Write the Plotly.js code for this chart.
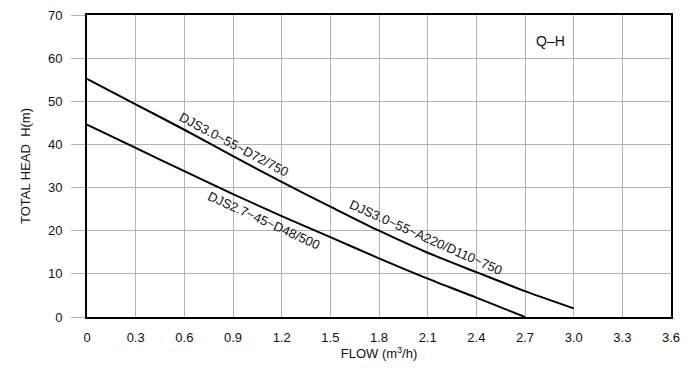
<!DOCTYPE html>
<html>
<head>
<meta charset="utf-8">
<script src="https://cdn.plot.ly/plotly-3.0.1.min.js"></script>
<style>html,body{margin:0;padding:0;background:#fff;}#chart{width:700px;height:374px;}</style>
</head>
<body>
<div id="chart"></div>
<script>
// Data
var flowUpper = [0, 0.3, 0.6, 0.9, 1.2, 1.5, 1.8, 2.1, 2.4, 2.7, 3.0];
var headUpper = [55.2, 49.3, 43.4, 37.3, 31.3, 25.6, 20.0, 14.9, 10.4, 6.0, 2.0];
var flowLower = [0, 0.3, 0.6, 0.9, 1.2, 1.5, 1.8, 2.1, 2.4, 2.7];
var headLower = [44.6, 39.2, 33.8, 28.5, 23.4, 18.5, 13.6, 8.9, 4.5, 0];
var xTicks = [0, 0.3, 0.6, 0.9, 1.2, 1.5, 1.8, 2.1, 2.4, 2.7, 3.0, 3.3, 3.6];
var xTickLabels = ["0", "0.3", "0.6", "0.9", "1.2", "1.5", "1.8", "2.1", "2.4", "2.7", "3.0", "3.3", "3.6"];
var yTicks = [0, 10, 20, 30, 40, 50, 60, 70];
var curveLabels = ["DJS3.0~55~D72/750", "DJS2.7~45~D48/500", "DJS3.0~55~A220/D110~750"];

var font = "Liberation Sans, Arial, Helvetica, sans-serif";

var traces = [
  {x: flowUpper, y: headUpper, mode: "lines", line: {color: "#000", width: 2, shape: "spline", smoothing: 0.8}, hoverinfo: "none"},
  {x: flowLower, y: headLower, mode: "lines", line: {color: "#000", width: 2, shape: "spline", smoothing: 0.8}, hoverinfo: "none"}
];

var lblFont = {size: 13, family: font, color: "#111"};

var layout = {
  width: 700, height: 374,
  margin: {l: 87, r: 29, t: 15, b: 57},
  paper_bgcolor: "#fff", plot_bgcolor: "#fff",
  showlegend: false,
  font: {family: font, size: 13, color: "#111"},
  xaxis: {
    range: [0, 3.6], tickvals: xTicks, ticktext: xTickLabels,
    tickfont: {size: 13, family: font, color: "#111"},
    showgrid: true, gridcolor: "#b4b4b4", gridwidth: 1,
    zeroline: false, showline: true, linecolor: "#000", linewidth: 2, mirror: true,
    ticks: "", ticklabelstandoff: 7,
    title: {text: "FLOW (m<sup>3</sup>/h)", font: {size: 13, family: font, color: "#111"}, standoff: 5}
  },
  yaxis: {
    range: [0, 70], tickvals: yTicks,
    tickfont: {size: 13, family: font, color: "#111"},
    showgrid: true, gridcolor: "#b4b4b4", gridwidth: 1,
    zeroline: false, showline: true, linecolor: "#000", linewidth: 2, mirror: true,
    ticks: "outside", ticklen: 14, tickcolor: "#b4b4b4", tickwidth: 1, ticklabelstandoff: 6,
    title: {text: "TOTAL HEAD  H(m)", font: {size: 13, family: font, color: "#111"}, standoff: 14}
  },
  annotations: [
    {xref: "x", yref: "y", x: 0.905, y: 39.9, xanchor: "center", yanchor: "middle", text: curveLabels[0], showarrow: false, textangle: 28, font: lblFont},
    {xref: "x", yref: "y", x: 1.09, y: 22.3, xanchor: "center", yanchor: "middle", text: curveLabels[1], showarrow: false, textangle: 24.5, font: lblFont},
    {xref: "x", yref: "y", x: 2.09, y: 18.4, xanchor: "center", yanchor: "middle", text: curveLabels[2], showarrow: false, textangle: 24, font: lblFont},
    {xref: "paper", yref: "paper", x: 0.793, y: 0.915, xanchor: "center", yanchor: "middle", text: "Q\u2013H", showarrow: false, font: {size: 14, family: font, color: "#111"}}
  ]
};

Plotly.newPlot("chart", traces, layout, {staticPlot: true, displayModeBar: false});
</script>
</body>
</html>
